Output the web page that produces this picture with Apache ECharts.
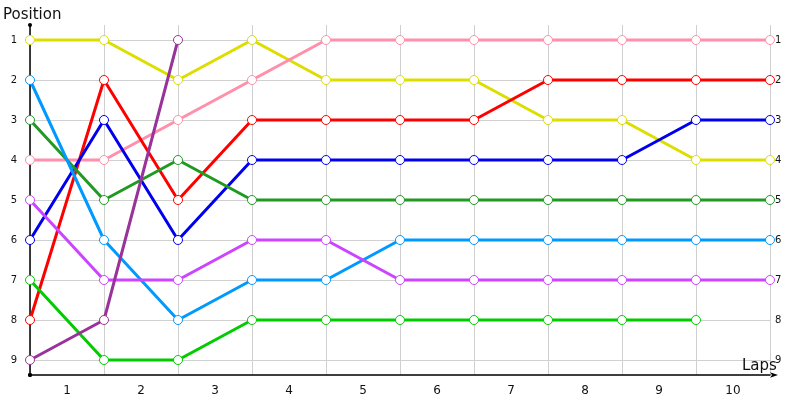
<!DOCTYPE html>
<html lang="en">
  <head>
    <meta charset="UTF-8" />
    <title>Positions</title>
    <style>
      html, body { margin: 0; padding: 0; background-color: #fff; }
      #main { width: 800px; height: 400px; }
    </style>
  </head>
  <body>
    <div id="main"></div>
  </body>
  <script src="https://cdn.jsdelivr.net/npm/echarts@6/dist/echarts.min.js"></script>
  <script>
    // laps 0..10 sit on the grid lines, lap labels 1..10 sit between them
    var laps = [0, 1, 2, 3, 4, 5, 6, 7, 8, 9, 10];
    var lapLabels = ['1', '2', '3', '4', '5', '6', '7', '8', '9', '10'];
    var positions = [1, 2, 3, 4, 5, 6, 7, 8, 9];

    var yellow    = [1, 1, 2, 1, 2, 2, 2, 3, 3, 4, 4];
    var pink      = [4, 4, 3, 2, 1, 1, 1, 1, 1, 1, 1];
    var red       = [8, 2, 5, 3, 3, 3, 3, 2, 2, 2, 2];
    var blue      = [6, 3, 6, 4, 4, 4, 4, 4, 4, 3, 3];
    var darkGreen = [3, 5, 4, 5, 5, 5, 5, 5, 5, 5, 5];
    var skyBlue   = [2, 6, 8, 7, 7, 6, 6, 6, 6, 6, 6];
    var violet    = [5, 7, 7, 6, 6, 7, 7, 7, 7, 7, 7];
    var green     = [7, 9, 9, 8, 8, 8, 8, 8, 8, 8];
    var purple    = [9, 8, 1];

    var lines = [
      { data: yellow, color: '#dddd00' },
      { data: pink, color: '#ff8fab' },
      { data: red, color: '#ff0000' },
      { data: blue, color: '#0000ee' },
      { data: darkGreen, color: '#229922' },
      { data: skyBlue, color: '#0099ff' },
      { data: violet, color: '#cc44ff' },
      { data: green, color: '#00cc00' },
      { data: purple, color: '#993399' }
    ];

    var labelFont = 'DejaVu Sans';
    var myChart = echarts.init(document.getElementById('main'));

    var series = lines.map(function (l) {
      return {
        type: 'line',
        data: l.data.map(function (v, i) { return [laps[i], v]; }),
        symbol: 'circle',
        symbolSize: 9,
        showAllSymbol: true,
        lineStyle: { color: l.color, width: 3 },
        itemStyle: { color: '#fff', borderColor: l.color, borderWidth: 1 },
        emphasis: { disabled: true },
        animation: false
      };
    });

    var option = {
      animation: false,
      title: [
        { text: 'Position', left: -2, top: 3, textStyle: { fontFamily: labelFont, fontSize: 15, fontWeight: 'normal', color: '#111' } },
        { text: 'Laps', left: 737, top: 354, textStyle: { fontFamily: labelFont, fontSize: 15, fontWeight: 'normal', color: '#111' } }
      ],
      grid: { left: 30, right: 30, top: 25, bottom: 25 },
      xAxis: {
        type: 'value',
        min: 0,
        max: 10,
        interval: 1,
        axisLine: { show: true, symbol: ['circle', 'arrow'], symbolSize: [4, 8], symbolOffset: [0, 8], lineStyle: { color: '#000', width: 1.5 } },
        axisTick: { show: false },
        splitLine: { show: true, lineStyle: { color: '#d0d0d0', width: 1 } },
        axisLabel: {
          customValues: lapLabels.map(function (t, i) { return i + 0.5; }),
          formatter: function (v) { return lapLabels[Math.round(v - 0.5)]; },
          fontFamily: labelFont, fontSize: 12, color: '#111', margin: 10
        }
      },
      yAxis: [
        {
          type: 'value',
          inverse: true,
          min: 0.625,
          max: 9.375,
          axisLine: { show: true, symbol: ['circle', 'circle'], symbolSize: [4, 4], lineStyle: { color: '#000', width: 1.5 } },
          axisTick: { show: false, customValues: positions },
          splitLine: { show: true, lineStyle: { color: '#d0d0d0', width: 1 } },
          axisLabel: { customValues: positions, fontFamily: labelFont, fontSize: 10, color: '#111', margin: 13 }
        },
        {
          type: 'value',
          inverse: true,
          position: 'right',
          min: 0.625,
          max: 9.375,
          axisLine: { show: false },
          axisTick: { show: false, customValues: positions },
          splitLine: { show: false },
          axisLabel: { customValues: positions, fontFamily: labelFont, fontSize: 10, color: '#111', margin: 5 }
        }
      ],
      series: series
    };

    myChart.setOption(option);
  </script>
</html>
